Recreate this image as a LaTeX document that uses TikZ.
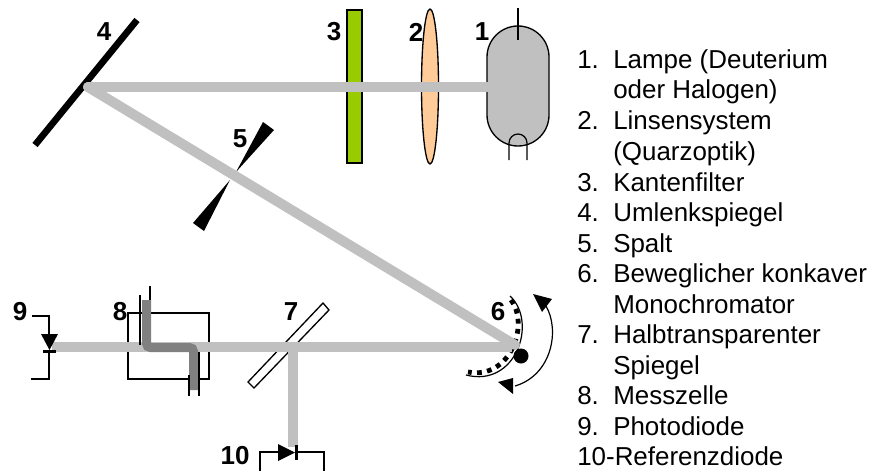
\documentclass[tikz,border=0pt]{standalone}
\usepackage{fontspec}
\setmainfont{Liberation Sans}
\tikzset{
  beam/.style={draw=beamgray,line width=7.5pt},
  thin wire/.style={draw=black,line width=0.9pt},
  numlabel/.style={font=\fontsize{19.5}{21}\selectfont\bfseries,inner sep=0pt,anchor=center},
  legend/.style={font=\fontsize{19.45}{21}\selectfont,inner sep=0pt,anchor=base west},
}
\definecolor{beamgray}{RGB}{192,192,192}
\definecolor{filtergreen}{RGB}{153,204,0}
\definecolor{lenspeach}{RGB}{255,204,153}
\definecolor{tubegray}{RGB}{128,128,128}
\begin{document}
\begin{tikzpicture}[x=0.75pt,y=-0.75pt]
\useasboundingbox (0,0) rectangle (880,471);
% named beam points
\coordinate (m4) at (88,87);
\coordinate (lampin) at (490,87);
\coordinate (m6) at (515,345);
\coordinate (d9) at (52,347);
\coordinate (m7) at (293,347);
\coordinate (d10) at (293,447);
\coordinate (m6b) at (512,347);
% mirror 4
\draw[line width=5pt,draw=black] (35,145) -- (137,20);
% filter, lens, lamp
\node[draw=black,fill=filtergreen,line width=1pt,minimum width=11.25pt,minimum height=114.75pt,inner sep=0pt] (filter) at (354.5,86.5) {};
\draw[fill=lenspeach,draw=black,line width=1pt] (430,86.5) ellipse[x radius=8.5,y radius=77.5];
\draw[fill=beamgray,draw=black,line width=1pt] (487,57) arc[start angle=180,end angle=360,radius=31] -- (549,115) arc[start angle=0,end angle=180,radius=31] -- cycle;
\draw[thin wire] (518,8) -- (518,40);
\draw[thin wire] (509,160) -- (509,143) arc[start angle=180,end angle=360,radius=9] -- (527,160);
% mirror 7, box 8
\draw[draw=black,fill=white,line width=1pt] (323,303) -- (329,310) -- (254,388) -- (248,382) -- cycle;
\draw[thin wire] (128,313) rectangle (209,379);
% slit 5
\fill (230,180) -- (193,223) -- (204,231) -- cycle;
\fill (236,172) -- (263,122) -- (274,130) -- cycle;
% monochromator 6 (under the beams)
\draw[thin wire] (510,296) .. controls (538,322) and (516,388) .. (466,375);
\draw[draw=black,line width=3.6pt,dash pattern=on 3.6pt off 4pt] (511,300) .. controls (530,325) and (510,380) .. (468,372);
% beams
\draw[beam,line cap=round] (m4) -- (lampin);
\draw[beam,line cap=round] (m4) -- (m6);
\draw[beam] (d9) -- (m6b);
\draw[beam] (m7) -- (d10);
% cell tube
\draw[draw=tubegray,line width=6.75pt,rounded corners=3pt] (146.5,300) -- (146.5,347.5) -- (193.5,347.5) -- (193.5,390);
\draw[thin wire] (140,295) -- (140,345);
\draw[thin wire] (150,286) -- (150,300);
\draw[thin wire] (189,375) -- (189,396);
\draw[thin wire] (199,352) -- (199,396);
% diode 9
\draw[thin wire] (32,316) -- (49,316) -- (49,335);
\draw[thin wire] (49,350) -- (49,379) -- (31,379);
\fill (41,334) -- (58,334) -- (49.5,350) -- cycle;
\fill (43,349.5) rectangle (56,352.5);
% diode 10
\draw[thin wire] (260,471) -- (260,452) -- (280,452);
\draw[thin wire] (296,452) -- (324,452) -- (324,471);
\fill (278,444) -- (278,461) -- (295,452.5) -- cycle;
\fill (294.5,445) rectangle (298,460);
% monochromator pivot and arrow
\fill (521,356) circle[radius=7.5];
\draw[thin wire] (546,306) .. controls (560,330) and (552,375) .. (515,386);
\fill (533,294) -- (552,299) -- (542,312) -- cycle;
\fill (498,382) -- (513,378) -- (513,394) -- cycle;
% number labels
\node[numlabel] (n4) at (104,32) {4};
\node[numlabel] (n3) at (334,32) {3};
\node[numlabel] (n2) at (416,32) {2};
\node[numlabel] (n1) at (482,32) {1};
\node[numlabel] (n5) at (240,139) {5};
\node[numlabel] (n6) at (498,312) {6};
\node[numlabel] (n7) at (291,312) {7};
\node[numlabel] (n8) at (120,312) {8};
\node[numlabel] (n9) at (20,312) {9};
\node[numlabel] (n10) at (235,456) {10};
% legend
\node[legend] (l1) at (577,68) {1.};
\node[legend] (t1) at (613,68) {Lampe (Deuterium};
\node[legend] (t1b) at (613,98) {oder Halogen)};
\node[legend] (l2) at (577,129) {2.};
\node[legend] (t2) at (613,129) {Linsensystem};
\node[legend] (t2b) at (613,160) {(Quarzoptik)};
\node[legend] (l3) at (577,191) {3.};
\node[legend] (t3) at (613,191) {Kantenfilter};
\node[legend] (l4) at (577,221) {4.};
\node[legend] (t4) at (613,221) {Umlenkspiegel};
\node[legend] (l5) at (577,252) {5.};
\node[legend] (t5) at (613,252) {Spalt};
\node[legend] (l6) at (577,282) {6.};
\node[legend] (t6) at (613,282) {Beweglicher konkaver};
\node[legend] (t6b) at (613,313) {Monochromator};
\node[legend] (l7) at (577,343) {7.};
\node[legend] (t7) at (613,343) {Halbtransparenter};
\node[legend] (t7b) at (613,374) {Spiegel};
\node[legend] (l8) at (577,404) {8.};
\node[legend] (t8) at (613,404) {Messzelle};
\node[legend] (l9) at (577,435) {9.};
\node[legend] (t9) at (613,435) {Photodiode};
\node[legend] (l10) at (577,465) {10-Referenzdiode};
\end{tikzpicture}
\end{document}
